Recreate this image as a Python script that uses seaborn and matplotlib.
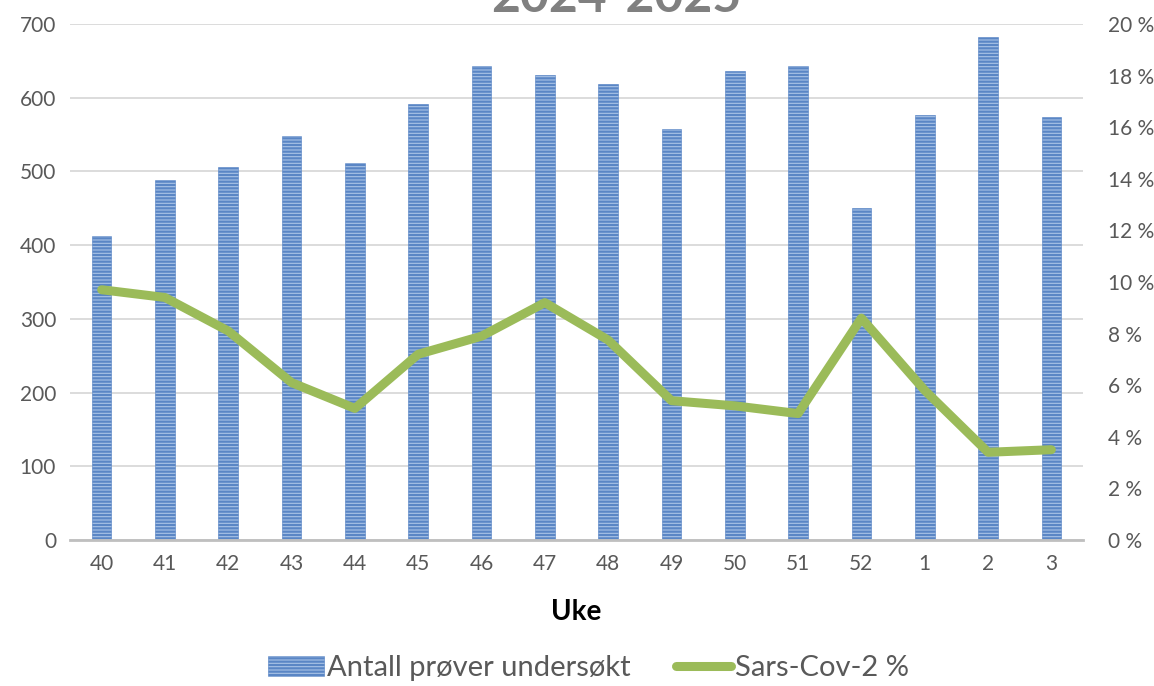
import numpy as np
import pandas as pd
import matplotlib
matplotlib.use("Agg")
import matplotlib.pyplot as plt
import seaborn as sns

# --- Daten ---
UKER = ["40", "41", "42", "43", "44", "45", "46", "47", "48", "49", "50", "51", "52", "1", "2", "3"]
ANTALL = [413, 489, 506, 548, 511, 591, 643, 631, 619, 557, 636, 643, 450, 576, 683, 574]
SARS_PCT = [9.7, 9.4, 8.1, 6.1, 5.1, 7.2, 7.9, 9.2, 7.75, 5.4, 5.2, 4.9, 8.6, 5.8, 3.4, 3.5]

BAR_FACE = "#a9c3e6"
BAR_HATCH = "#5a86c5"
LINE_COL = "#9bbb59"
TXT = "#595959"

sns.set_theme(style="white")
plt.rcParams["font.family"] = ["Lato", "DejaVu Sans"]
plt.rcParams["hatch.linewidth"] = 1.6
plt.rcParams["hatch.color"] = BAR_HATCH

df = pd.DataFrame({"uke": UKER, "antall": ANTALL, "pct": SARS_PCT})

fig = plt.figure(figsize=(11.54, 6.86), dpi=100)
ax = fig.add_axes([70 / 1154, 1 - 540 / 686, (1083 - 70) / 1154, (540 - 24) / 686])

sns.barplot(data=df, x="uke", y="antall", order=UKER, ax=ax, width=0.31,
            color=BAR_FACE, saturation=1, label="Antall prøver undersøkt", legend=False)
for p in ax.patches:
    p.set_hatch("-----")
    p.set_edgecolor(BAR_HATCH)
    p.set_linewidth(0.4)

ax.set_ylim(0, 700)
ax.set_yticks(range(0, 701, 100))
ax.grid(axis="y", color="#d9d9d9", linewidth=1.3)
ax.set_axisbelow(True)
ax.set_xlabel("Uke", fontsize=20, fontweight="bold", color="black", labelpad=18)
ax.set_ylabel("")
ax.tick_params(axis="both", length=0, labelsize=15, colors=TXT, pad=10)
for s in ["top", "left", "right"]:
    ax.spines[s].set_visible(False)
ax.spines["bottom"].set_color("#bfbfbf")
ax.spines["bottom"].set_linewidth(2)

ax2 = ax.twinx()
sns.lineplot(x=np.arange(len(UKER)), y=SARS_PCT, ax=ax2, color=LINE_COL,
             linewidth=6.5, solid_joinstyle="round", solid_capstyle="round",
             label="Sars-Cov-2 %", legend=False)
ax2.set_ylim(0, 20)
ax2.set_yticks(range(0, 21, 2))
ax2.set_yticklabels([f"{v} %" for v in range(0, 21, 2)])
ax2.tick_params(axis="y", length=0, labelsize=15, colors=TXT, pad=18)
ax2.set_ylabel("")
for s in ["top", "left", "right", "bottom"]:
    ax2.spines[s].set_visible(False)
ax.set_xlim(-0.5, len(UKER) - 0.5)

# Legende unten
h1 = [plt.Rectangle((0, 0), 1, 1, facecolor=BAR_FACE, edgecolor=BAR_HATCH,
                    hatch="-----", linewidth=0.4)]
l1 = ["Antall prøver undersøkt"]
h2, l2 = ax2.get_legend_handles_labels()
fig.legend(h1 + h2, l1 + l2, loc="center", bbox_to_anchor=(0.51, 1 - 668 / 686),
           ncol=2, frameon=False, fontsize=21, labelcolor=TXT,
           handlelength=1.9, handletextpad=0.12, columnspacing=1.55)

# Titel (oben abgeschnitten wie im Original)
fig.text(0.534, 1 - 12 / 686, "2024-2025", ha="center", va="baseline",
         fontsize=36, fontweight="bold", color="#808080")

fig.savefig("out.png", dpi=100)
